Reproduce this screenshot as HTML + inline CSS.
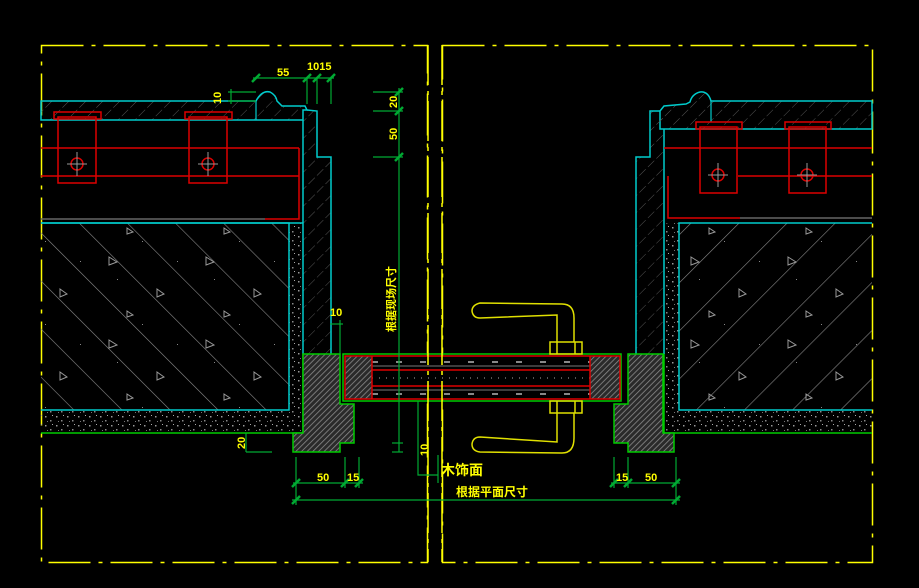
<!DOCTYPE html>
<html><head><meta charset="utf-8"><style>
html,body{margin:0;padding:0;background:#000;}
svg{display:block;}
.t{font-family:"Liberation Sans","Noto Sans CJK SC",sans-serif;fill:#ffff00;font-weight:bold;}
</style></head><body>
<svg width="919" height="588" viewBox="0 0 919 588" xmlns="http://www.w3.org/2000/svg">
<defs>
<pattern id="conL" width="34" height="34" patternUnits="userSpaceOnUse" patternTransform="rotate(-45)">
<line x1="0" y1="0" x2="0" y2="34" stroke="#8a8a8a" stroke-width="1.2"/></pattern>
<pattern id="conR" width="34" height="34" patternUnits="userSpaceOnUse" patternTransform="rotate(45)">
<line x1="0" y1="0" x2="0" y2="34" stroke="#8a8a8a" stroke-width="1.2"/></pattern>
<pattern id="stone" width="12" height="12" patternUnits="userSpaceOnUse" patternTransform="rotate(45)">
<line x1="0" y1="0" x2="0" y2="12" stroke="#555" stroke-width="1" stroke-dasharray="8,3"/></pattern>
<pattern id="wood" width="4" height="4" patternUnits="userSpaceOnUse" patternTransform="rotate(45)">
<rect width="4" height="4" fill="#2a2a2a"/><line x1="0" y1="0" x2="0" y2="4" stroke="#8a8a8a" stroke-width="1.6"/></pattern>
<pattern id="grit" width="11" height="9" patternUnits="userSpaceOnUse">
<rect x="1" y="2" width="1.5" height="1.5" fill="#999"/><rect x="6" y="6" width="1.5" height="1.5" fill="#888"/><rect x="8" y="1" width="1" height="1" fill="#aaa"/><rect x="3" y="7" width="1" height="1" fill="#777"/></pattern>
<pattern id="tri" width="97" height="83" patternUnits="userSpaceOnUse">
<path d="M12 8 l8 5 l-8 3z M60 40 l7 5 l-7 3z M30 62 l6 4 l-6 2z" fill="none" stroke="#999" stroke-width="1"/>
<rect x="80" y="12" width="1" height="1" fill="#888"/><rect x="20" y="30" width="1" height="1" fill="#888"/><rect x="45" y="75" width="1" height="1" fill="#888"/></pattern>
</defs>

<!-- frames -->
<g stroke="#ffff00" stroke-width="1.5" fill="none" stroke-dasharray="42,8,4,8">
<rect x="41.5" y="45.5" width="386" height="517"/>
<rect x="442.5" y="45.5" width="430" height="517"/>
</g>

<!-- LEFT -->
<rect x="41" y="410" width="262" height="23" fill="url(#grit)"/>
<rect x="289" y="223" width="14" height="190" fill="url(#grit)"/>
<rect x="41" y="223" width="248" height="187" fill="url(#conL)"/>
<rect x="41" y="223" width="248" height="187" fill="url(#tri)"/>
<polyline points="41,223 289,223 289,410 41,410" fill="none" stroke="#00cccc" stroke-width="1.5"/>
<line x1="41" y1="223" x2="303" y2="223" stroke="#00cccc" stroke-width="1.5"/>
<polyline points="41,433 303,433 303,354" fill="none" stroke="#00cc00" stroke-width="1.5"/>
<path d="M41,101 L256,101 Q262,90 270,92 Q276,95 277,101 L282,106 L305,106 L307,110 L303,110 L303,120 L41,120 Z" fill="url(#stone)" stroke="#00cccc" stroke-width="1.5"/>
<path d="M303,110 L317,111 L317,157 L331,157 L331,354 L303,354 Z" fill="url(#stone)"/>
<polyline points="307,110 317,111 317,157 331,157 331,354" fill="none" stroke="#00cccc" stroke-width="1.5"/>
<line x1="303" y1="120" x2="303" y2="354" stroke="#00cccc" stroke-width="1.5"/>
<line x1="256" y1="101" x2="256" y2="120" stroke="#00cccc" stroke-width="1.2"/>
<g stroke="#dd0000" stroke-width="1.5" fill="none">
<line x1="41" y1="148" x2="299" y2="148"/><line x1="41" y1="176" x2="299" y2="176"/>
<polyline points="299,148 299,219 265,219"/>
<rect x="58" y="117" width="38" height="66"/><rect x="54" y="112" width="47" height="7"/>
<rect x="189" y="117" width="38" height="66"/><rect x="185" y="112" width="47" height="7"/>
<circle cx="77" cy="164" r="6"/><circle cx="208" cy="164" r="6"/>
</g>
<line x1="41" y1="219" x2="265" y2="219" stroke="#666" stroke-width="1.5"/>
<g stroke="#999" stroke-width="1" fill="none">
<line x1="67" y1="164" x2="87" y2="164"/><line x1="77" y1="152" x2="77" y2="176"/>
<line x1="198" y1="164" x2="218" y2="164"/><line x1="208" y1="152" x2="208" y2="176"/>
</g>
<polygon points="303,354 340,354 340,404 354,404 354,443 340,443 340,452 293,452 293,433 303,433" fill="url(#wood)" stroke="#00cc00" stroke-width="1.5"/>

<!-- RIGHT -->
<rect x="664" y="410" width="208" height="23" fill="url(#grit)"/>
<rect x="664" y="223" width="15" height="190" fill="url(#grit)"/>
<rect x="679" y="223" width="193" height="187" fill="url(#conR)"/>
<rect x="679" y="223" width="193" height="187" fill="url(#tri)"/>
<polyline points="872,223 679,223 679,410 872,410" fill="none" stroke="#00cccc" stroke-width="1.5"/>
<polyline points="872,433 664,433 664,354" fill="none" stroke="#00cc00" stroke-width="1.5"/>
<path d="M872,101 L711,101 Q708,91 700,92 Q692,94 690,102 L686,104 L664,106 L660,111 L660,129 L872,129 Z" fill="url(#stone)" stroke="#00cccc" stroke-width="1.5"/>
<path d="M664,111 L650,111 L650,157 L636,157 L636,354 L664,354 Z" fill="url(#stone)"/>
<polyline points="660,111 650,111 650,157 636,157 636,354" fill="none" stroke="#00cccc" stroke-width="1.5"/>
<line x1="664" y1="129" x2="664" y2="354" stroke="#00cccc" stroke-width="1.5"/>
<line x1="711" y1="101" x2="711" y2="122" stroke="#00cccc" stroke-width="1.2"/>
<g stroke="#dd0000" stroke-width="1.5" fill="none">
<line x1="664" y1="148" x2="872" y2="148"/><line x1="738" y1="176" x2="872" y2="176"/>
<polyline points="668,176 668,218 740,218"/>
<rect x="700" y="127" width="37" height="66"/><rect x="696" y="122" width="46" height="7"/>
<rect x="789" y="127" width="37" height="66"/><rect x="785" y="122" width="46" height="7"/>
<circle cx="718" cy="175" r="6"/><circle cx="807" cy="175" r="6"/>
</g>
<line x1="740" y1="218" x2="872" y2="218" stroke="#666" stroke-width="1.5"/>
<g stroke="#999" stroke-width="1" fill="none">
<line x1="708" y1="175" x2="728" y2="175"/><line x1="718" y1="163" x2="718" y2="187"/>
<line x1="797" y1="175" x2="817" y2="175"/><line x1="807" y1="163" x2="807" y2="187"/>
</g>
<polygon points="628,354 663,354 663,433 674,433 674,452 628,452 628,443 614,443 614,404 628,404" fill="url(#wood)" stroke="#00cc00" stroke-width="1.5"/>

<!-- door -->
<rect x="343" y="354" width="278" height="47" fill="none" stroke="#00cc00" stroke-width="1.5"/>
<rect x="372" y="356" width="218" height="43" fill="#000"/>
<line x1="372" y1="362" x2="590" y2="362" stroke="#888" stroke-width="2" stroke-dasharray="6,18"/>
<line x1="372" y1="366" x2="590" y2="366" stroke="#777" stroke-width="1"/>
<line x1="372" y1="378" x2="590" y2="378" stroke="#aaa" stroke-width="1" stroke-dasharray="1,6"/>
<line x1="372" y1="390" x2="590" y2="390" stroke="#777" stroke-width="1"/>
<line x1="372" y1="394" x2="590" y2="394" stroke="#888" stroke-width="2" stroke-dasharray="6,18"/>
<rect x="345" y="356" width="27" height="43" fill="url(#wood)"/>
<rect x="590" y="356" width="30" height="43" fill="url(#wood)"/>
<g stroke="#dd0000" stroke-width="1.5" fill="none">
<rect x="345" y="356" width="275" height="43"/>
<line x1="372" y1="370" x2="590" y2="370"/><line x1="372" y1="386" x2="590" y2="386"/>
<line x1="372" y1="356" x2="372" y2="399"/><line x1="590" y1="356" x2="590" y2="399"/>
</g>
<g stroke="#ffff00" stroke-width="1.5" stroke-dasharray="40,6,4,6">
<line x1="428" y1="45" x2="428" y2="562"/><line x1="442" y1="45" x2="442" y2="562"/>
</g>
<g stroke="#e0e000" stroke-width="1.5" fill="none">
<path d="M574,342 L574,318 Q574,304 562,304 L480,303 Q472,305 472,311 Q473,318 480,318 L557,315 L557,342"/>
<rect x="550" y="342" width="32" height="12"/><line x1="557" y1="342" x2="557" y2="354"/><line x1="575" y1="342" x2="575" y2="354"/>
<rect x="550" y="401" width="32" height="12"/><line x1="557" y1="401" x2="557" y2="413"/><line x1="575" y1="401" x2="575" y2="413"/>
<path d="M574,413 L574,438 Q574,453 562,453 L480,452 Q472,451 472,444 Q473,437 480,437 L557,442 L557,413"/>
</g>

<g stroke="#00aa33" stroke-width="1.2" fill="none">
<line x1="253" y1="78" x2="334" y2="78"/>
<line x1="307" y1="78" x2="307" y2="104"/><line x1="317" y1="78" x2="317" y2="104"/><line x1="331" y1="78" x2="331" y2="104"/>
<line x1="228" y1="92" x2="256" y2="92"/><line x1="228" y1="101" x2="256" y2="101"/><line x1="231" y1="89" x2="231" y2="104"/>
<line x1="373" y1="92" x2="403" y2="92"/><line x1="373" y1="111" x2="403" y2="111"/><line x1="373" y1="157" x2="403" y2="157"/>
<line x1="399" y1="88" x2="399" y2="452"/>
<line x1="392" y1="443" x2="403" y2="443"/><line x1="392" y1="452" x2="403" y2="452"/>
<line x1="330" y1="324" x2="343" y2="324"/><line x1="340" y1="320" x2="340" y2="354"/>
<line x1="246" y1="433" x2="246" y2="452"/><line x1="246" y1="452" x2="272" y2="452"/>
<line x1="296" y1="457" x2="296" y2="505"/><line x1="345" y1="457" x2="345" y2="488"/><line x1="359" y1="457" x2="359" y2="488"/>
<line x1="293" y1="483" x2="363" y2="483"/>
<line x1="292" y1="500" x2="680" y2="500"/>
<line x1="614" y1="457" x2="614" y2="488"/><line x1="628" y1="457" x2="628" y2="488"/><line x1="676" y1="457" x2="676" y2="505"/>
<line x1="611" y1="483" x2="680" y2="483"/>
<polyline points="418,401 418,475 438,475"/>
<line x1="438" y1="455" x2="438" y2="483"/>
</g>
<g stroke="#00aa33" stroke-width="2.5">
<line x1="252" y1="82" x2="260" y2="74"/><line x1="303" y1="82" x2="311" y2="74"/><line x1="313" y1="82" x2="321" y2="74"/><line x1="327" y1="82" x2="335" y2="74"/>
<line x1="395" y1="96" x2="403" y2="88"/><line x1="395" y1="115" x2="403" y2="107"/><line x1="395" y1="161" x2="403" y2="153"/>
<line x1="292" y1="487" x2="300" y2="479"/><line x1="341" y1="487" x2="349" y2="479"/><line x1="355" y1="487" x2="363" y2="479"/>
<line x1="292" y1="504" x2="300" y2="496"/><line x1="672" y1="504" x2="680" y2="496"/>
<line x1="610" y1="487" x2="618" y2="479"/><line x1="624" y1="487" x2="632" y2="479"/><line x1="672" y1="487" x2="680" y2="479"/>
</g>

<text class="t" x="277" y="76" font-size="11">55</text>
<text class="t" x="307" y="70" font-size="11">1015</text>
<text class="t" font-size="11" transform="translate(221,104) rotate(-90)">10</text>
<text class="t" font-size="11" transform="translate(397,108) rotate(-90)">20</text>
<text class="t" font-size="11" transform="translate(397,140) rotate(-90)">50</text>
<text class="t" font-size="11" transform="translate(395,332) rotate(-90)">根据现场尺寸</text>
<text class="t" x="330" y="316" font-size="11">10</text>
<text class="t" font-size="11" transform="translate(245,449) rotate(-90)">20</text>
<text class="t" font-size="11" transform="translate(428,456) rotate(-90)">10</text>
<text class="t" x="317" y="481" font-size="11">50</text>
<text class="t" x="347" y="481" font-size="11">15</text>
<text class="t" x="616" y="481" font-size="11">15</text>
<text class="t" x="645" y="481" font-size="11">50</text>
<text class="t" x="441" y="475" font-size="14">木饰面</text>
<text class="t" x="456" y="496" font-size="12">根据平面尺寸</text>
</svg>
</body></html>
